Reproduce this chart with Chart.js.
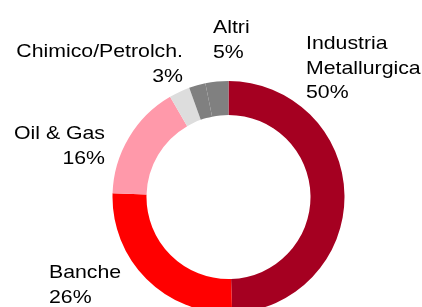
<!DOCTYPE html>
<html>
<head>
<meta charset="utf-8">
<script src="https://cdn.jsdelivr.net/npm/chart.js@4"></script>
<style>
html,body{margin:0;padding:0;background:#fff;overflow:hidden;}
#wrap{position:absolute;left:0;top:0;width:422px;height:307px;}
</style>
</head>
<body>
<div id="wrap"><canvas id="c" width="422" height="307"></canvas></div>
<script>
// Slices clockwise from 12 o'clock (Altri drawn as two adjoining grey pieces)
const categories = ['Industria Metallurgica', 'Banche', 'Oil & Gas', 'Chimico/Petrolch.', 'Altri', 'Altri'];
const values = [49.5, 26, 16.1, 2.9, 2.3, 3.2];
const colors = ['#A50021', '#FF0000', '#FF99AA', '#DDDDDD', '#808080', '#808080'];

// Label texts as printed on the chart
const labelLines = [
  ['Industria', 'Metallurgica', '50%'],
  ['Banche', '26%'],
  ['Oil & Gas', '16%'],
  ['Chimico/Petrolch.', '3%'],
  ['Altri', '5%']
];
// label anchor (x, first baseline, alignment)
const labelPos = [
  {x: 306, y: 49, align: 'left'},
  {x: 49, y: 278, align: 'left'},
  {x: 105, y: 139, align: 'right'},
  {x: 183, y: 57, align: 'right'},
  {x: 213, y: 33, align: 'left'}
];

const textPlugin = {
  id: 'textLabels',
  afterDraw(chart) {
    const ctx = chart.ctx;
    ctx.save();
    ctx.fillStyle = '#000';
    ctx.font = '18.5px "Liberation Sans", Arial, sans-serif';
    ctx.textBaseline = 'alphabetic';
    labelLines.forEach((lines, i) => {
      const p = labelPos[i];
      lines.forEach((t, j) => {
        ctx.save();
        ctx.translate(p.x, p.y + j * 24.5);
        ctx.scale(1.15, 1);
        ctx.textAlign = p.align;
        ctx.fillText(t, 0, 0);
        ctx.restore();
      });
    });
    ctx.restore();
  }
};

new Chart(document.getElementById('c'), {
  type: 'doughnut',
  data: {
    labels: categories,
    datasets: [{
      data: values,
      backgroundColor: colors,
      borderWidth: 0,
      radius: 116,
      cutout: '70.7%'
    }]
  },
  options: {
    responsive: false,
    animation: false,
    layout: {padding: {left: 35, top: 87, right: 0, bottom: 0}},
    plugins: {legend: {display: false}, tooltip: {enabled: false}}
  },
  plugins: [textPlugin]
});
</script>
</body>
</html>
